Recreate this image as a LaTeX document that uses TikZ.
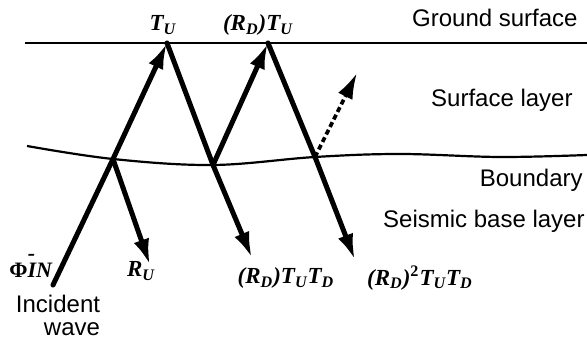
\documentclass[tikz,border=0pt]{standalone}
\usepackage{fontspec}
\setmainfont{Liberation Sans}
\newfontfamily\labfont{Liberation Serif}
\usetikzlibrary{arrows.meta,positioning}

\begin{document}
\begin{tikzpicture}[x=0.5pt,y=-0.5pt,
  ray/.style={line width=2.5pt,line cap=round},
  wave/.style={ray,-{Latex[length=13pt,width=8pt]}},
  leak/.style={line width=1.8pt,dash pattern=on 2.6pt off 1.6pt,-{Latex[length=13pt,width=8pt]}},
  layer/.style={line width=1.1pt},
  txt/.style={font=\fontsize{12}{11.5}\selectfont,inner sep=0pt},
  lab/.style={font=\labfont\bfseries\itshape\fontsize{11.5}{13}\selectfont,inner sep=0pt}]
  \useasboundingbox (0,0) rectangle (587,340);
  % points where the rays meet the surface and the boundary
  \coordinate (in) at (53,285);
  \coordinate (b1) at (113,159);
  \coordinate (g1) at (167,43);
  \coordinate (b2) at (213,165);
  \coordinate (g2) at (268,43);
  \coordinate (b3) at (315,157);
  \coordinate (r1) at (150,265);
  \coordinate (r2) at (252,258);
  \coordinate (r3) at (355,260);
  \coordinate (e1) at (357,73);
  % ground surface and boundary
  \coordinate (gl) at (25,43);
  \coordinate (gr) at (587,43);
  \draw[layer] (gl) -- (gr);
  \draw[layer] plot[smooth,tension=0.6] coordinates {(27,146) (b1) (b2) (b3) (400,154) (500,157) (587,155)};
  % rays
  \draw[ray] (in) -- (b1);
  \draw[wave] (b1) -- (g1);
  \draw[wave] (b1) -- (r1);
  \draw[ray] (g1) -- (b2);
  \draw[wave] (b2) -- (r2);
  \draw[wave] (b2) -- (g2);
  \draw[ray] (g2) -- (b3);
  \draw[wave] (b3) -- (r3);
  \draw[leak] (b3) -- (e1);
  % labels
  \node[lab] (tu) at (163,25) {T\textsubscript{U}};
  \node[lab] (rdtu) at (258,25) {(R\textsubscript{D})T\textsubscript{U}};
  \node[lab] (ru) at (141,271) {R\textsubscript{U}};
  \node[lab] (rtt) at (286,278) {(R\textsubscript{D})T\textsubscript{U}T\textsubscript{D}};
  \node[lab] (rrtt) at (420,278) {(R\textsubscript{D})\textsuperscript{\upshape 2}T\textsubscript{U}T\textsubscript{D}};
  \node[lab,font=\labfont\bfseries\fontsize{11}{12}\selectfont] (phi) at (31,266) {Φ\textit{I\llap{\raisebox{1.75ex}{-}\hspace{0.5pt}}N}};
  \node[txt,align=center,anchor=north] (inc) at (58,295) {Incident\\\hspace*{14pt}wave};
  \node[txt,anchor=base east] (gs) at (578,27) {Ground surface};
  \node[txt,anchor=base east] (sl) at (573,107) {Surface layer};
  \node[txt,anchor=base east] (bd) at (583,187) {Boundary};
  \node[txt,anchor=base east] (sb) at (585,228) {Seismic base layer};
\end{tikzpicture}
\end{document}
